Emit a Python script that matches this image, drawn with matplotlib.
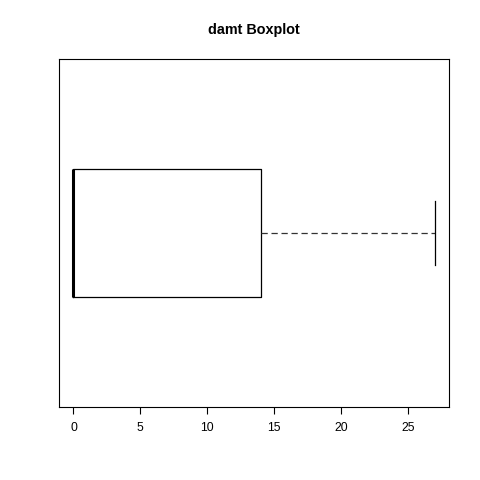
import matplotlib
matplotlib.use("Agg")
import matplotlib.pyplot as plt

plt.rcParams["font.family"] = ["Liberation Sans", "DejaVu Sans"]

# five-number summary of damt
stat_names = ["whislo", "q1", "med", "q3", "whishi"]
stat_values = [0, 0, 0, 14, 27]
x_ticks = [0, 5, 10, 15, 20, 25]

stats = dict(zip(stat_names, stat_values))
stats["fliers"] = []

fig = plt.figure(figsize=(4.8, 4.8), dpi=100)
ax = fig.add_axes([59 / 480, 1 - 407 / 480, 390 / 480, 348 / 480])

ax.bxp(
    [stats],
    positions=[1],
    widths=0.4,
    vert=False,
    showfliers=False,
    boxprops=dict(color="black", linewidth=0.9),
    medianprops=dict(color="black", linewidth=2.2, solid_capstyle="butt"),
    whiskerprops=dict(color="#333333", linewidth=0.9, linestyle=(0, (5, 3))),
    capprops=dict(color="black", linewidth=0.9),
    capwidths=0.2,
)

lo, hi = min(stat_values), max(stat_values)
pad = (hi - lo) * 0.04
ax.set_xlim(lo - pad, hi + pad)
ax.set_ylim(0.46, 1.54)
ax.set_yticks([])
ax.set_xticks(x_ticks)
ax.set_xticklabels([str(t) for t in x_ticks], fontsize=8.8)
ax.tick_params(axis="x", length=5, width=0.8, pad=6)
for s in ax.spines.values():
    s.set_linewidth(0.8)

fig.text(254 / 480, 1 - 30 / 480, "damt Boxplot", fontsize=10.4,
         fontweight="bold", ha="center", va="center")

fig.savefig("out.png", dpi=100)
